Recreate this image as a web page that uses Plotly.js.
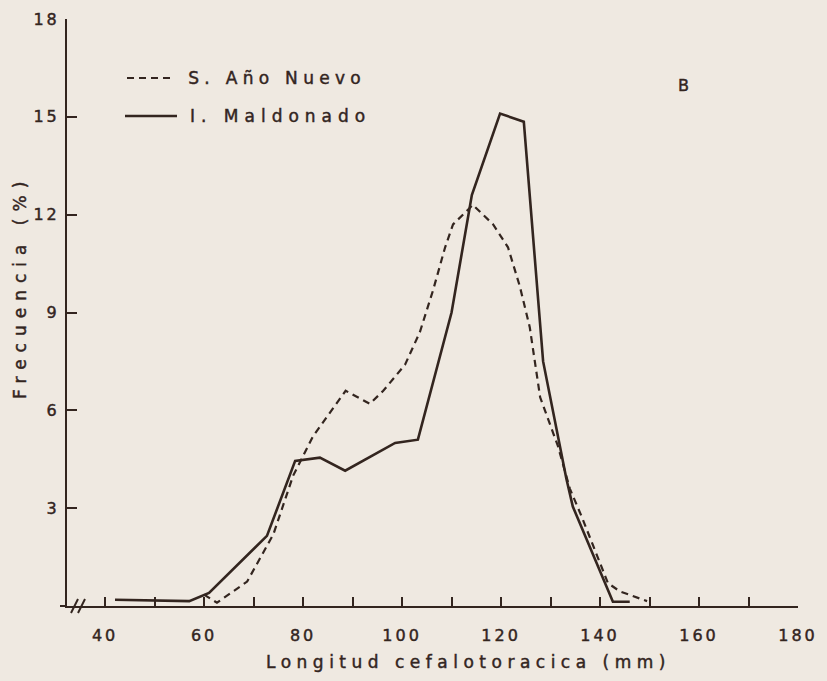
<!DOCTYPE html>
<html>
<head>
<meta charset="utf-8">
<script src="https://cdn.plot.ly/plotly-3.0.1.min.js"></script>
<style>
  html, body { margin: 0; padding: 0; background: #efe9e1; }
  #chart { width: 827px; height: 681px; }
  #chart text { stroke: #33251f; stroke-width: 0.45px; }
  .xtick text, .ytick text { letter-spacing: 3px; }
  .annotation[data-index="0"] text { letter-spacing: 5.3px; }
  .annotation[data-index="1"] text { letter-spacing: 6px; }
  .annotation[data-index="3"] text { letter-spacing: 5.5px; }
  .annotation[data-index="4"] text { letter-spacing: 7px; }
</style>
</head>
<body>
<div id="chart"></div>
<script>
// ---- Data ----
const seriesNames = ["S. Año Nuevo", "I. Maldonado"];

// S. Año Nuevo (dashed)
const anoNuevoX = [60, 62.6, 68.7, 74, 78, 82, 88.6, 93.5, 96.2, 100.6, 103.6, 106.3, 108.7, 110.3, 114.3, 118.4, 121.4, 123.8, 125.8, 127.9, 131.5, 133.9, 136.4, 141.6, 144, 149.5];
const anoNuevoY = [0.35, 0.1, 0.75, 2.2, 4.0, 5.2, 6.6, 6.2, 6.6, 7.4, 8.4, 9.7, 11.0, 11.7, 12.3, 11.7, 11.0, 9.8, 8.55, 6.4, 4.9, 3.6, 2.7, 0.7, 0.45, 0.15];

// I. Maldonado (solid)
const maldonadoX = [42, 50, 57, 61, 72.7, 78.4, 83.4, 88.5, 98.6, 103.2, 110, 114.1, 119.8, 124.6, 128.5, 133.2, 134.5, 142.6, 146];
const maldonadoY = [0.19, 0.18, 0.15, 0.4, 2.15, 4.45, 4.55, 4.15, 5.0, 5.1, 9.0, 12.6, 15.1, 14.85, 7.5, 3.9, 3.05, 0.13, 0.13];

// Axis ticks
const xTickVals = [40, 50, 60, 70, 80, 90, 100, 110, 120, 130, 140, 150, 160, 170, 180];
const xTickText = ["40", "", "60", "", "80", "", "100", "", "120", "", "140", "", "160", "", "180"];
const yTickVals = [3, 6, 9, 12, 15, 18];
const yTickText = ["3", "6", "9", "12", "15", "18"];

const xTitle = "Longitud cefalotoracica (mm)";
const yTitle = "Frecuencia (%)";
const panelLabel = "B";

// ---- Styling ----
const ink = "#33251f";
const bg = "#efe9e1";
const font = "DejaVu Sans, Verdana, sans-serif";

const traces = [
  {
    x: anoNuevoX, y: anoNuevoY, name: seriesNames[0],
    type: "scatter", mode: "lines",
    line: { color: ink, width: 2.2, dash: "7px,5px" },
    showlegend: false, hoverinfo: "skip"
  },
  {
    x: maldonadoX, y: maldonadoY, name: seriesNames[1],
    type: "scatter", mode: "lines",
    line: { color: ink, width: 2.6 },
    showlegend: false, hoverinfo: "skip"
  }
];

const L = 67, R = 29, T = 19, B = 75;
const W = 827, H = 681;
const pw = W - L - R, ph = H - T - B;
const px = v => (v - L) / pw;          // pixel -> paper x
const py = v => (H - B - v) / ph;      // pixel -> paper y

const layout = {
  width: W, height: H,
  margin: { l: L, r: R, t: T, b: B, pad: 0 },
  paper_bgcolor: bg, plot_bgcolor: bg,
  font: { family: font, color: ink, size: 16 },
  showlegend: false,
  xaxis: {
    range: [32.3, 180],
    tickvals: xTickVals, ticktext: xTickText,
    ticks: "inside", ticklen: 9, tickwidth: 2, tickcolor: ink,
    showline: true, linecolor: ink, linewidth: 2,
    showgrid: false, zeroline: false,
    tickfont: { family: font, size: 16, color: ink },
    ticklabelstandoff: 14
  },
  yaxis: {
    range: [0, 18],
    tickvals: yTickVals, ticktext: yTickText,
    ticks: "inside", ticklen: 10, tickwidth: 2, tickcolor: ink,
    showline: true, linecolor: ink, linewidth: 2,
    showgrid: false, zeroline: false,
    tickfont: { family: font, size: 16, color: ink },
    ticklabelstandoff: 2
  },
  shapes: [
    // axis extension left of the y axis and the break marks
    { type: "line", xref: "paper", yref: "paper", x0: px(60), x1: 0, y0: 0, y1: 0, line: { color: ink, width: 2 } },
    { type: "line", xref: "paper", yref: "paper", x0: px(71), x1: px(78), y0: py(613), y1: py(599), line: { color: ink, width: 2 } },
    { type: "line", xref: "paper", yref: "paper", x0: px(78), x1: px(85), y0: py(613), y1: py(599), line: { color: ink, width: 2 } },
    // legend samples
    { type: "line", xref: "paper", yref: "paper", x0: px(127), x1: px(174), y0: py(78), y1: py(78), line: { color: ink, width: 2.2, dash: "7px,5px" } },
    { type: "line", xref: "paper", yref: "paper", x0: px(125), x1: px(177), y0: py(116), y1: py(116), line: { color: ink, width: 2.4 } }
  ],
  annotations: [
    { text: seriesNames[0], xref: "paper", yref: "paper", x: px(277), y: py(78), xanchor: "center", yanchor: "middle", showarrow: false, font: { family: font, size: 17, color: ink } },
    { text: seriesNames[1], xref: "paper", yref: "paper", x: px(280), y: py(116), xanchor: "center", yanchor: "middle", showarrow: false, font: { family: font, size: 17, color: ink } },
    { text: panelLabel, xref: "paper", yref: "paper", x: px(683), y: py(86), xanchor: "center", yanchor: "middle", showarrow: false, font: { family: font, size: 16, color: ink } },
    { text: xTitle, xref: "paper", yref: "paper", x: px(468), y: py(662), xanchor: "center", yanchor: "middle", showarrow: false, font: { family: font, size: 17, color: ink } },
    { text: yTitle, xref: "paper", yref: "paper", x: px(20), y: py(287), xanchor: "center", yanchor: "middle", textangle: -90, showarrow: false, font: { family: font, size: 17, color: ink } }
  ]
};

Plotly.newPlot("chart", traces, layout, { staticPlot: true, displayModeBar: false });
</script>
</body>
</html>
